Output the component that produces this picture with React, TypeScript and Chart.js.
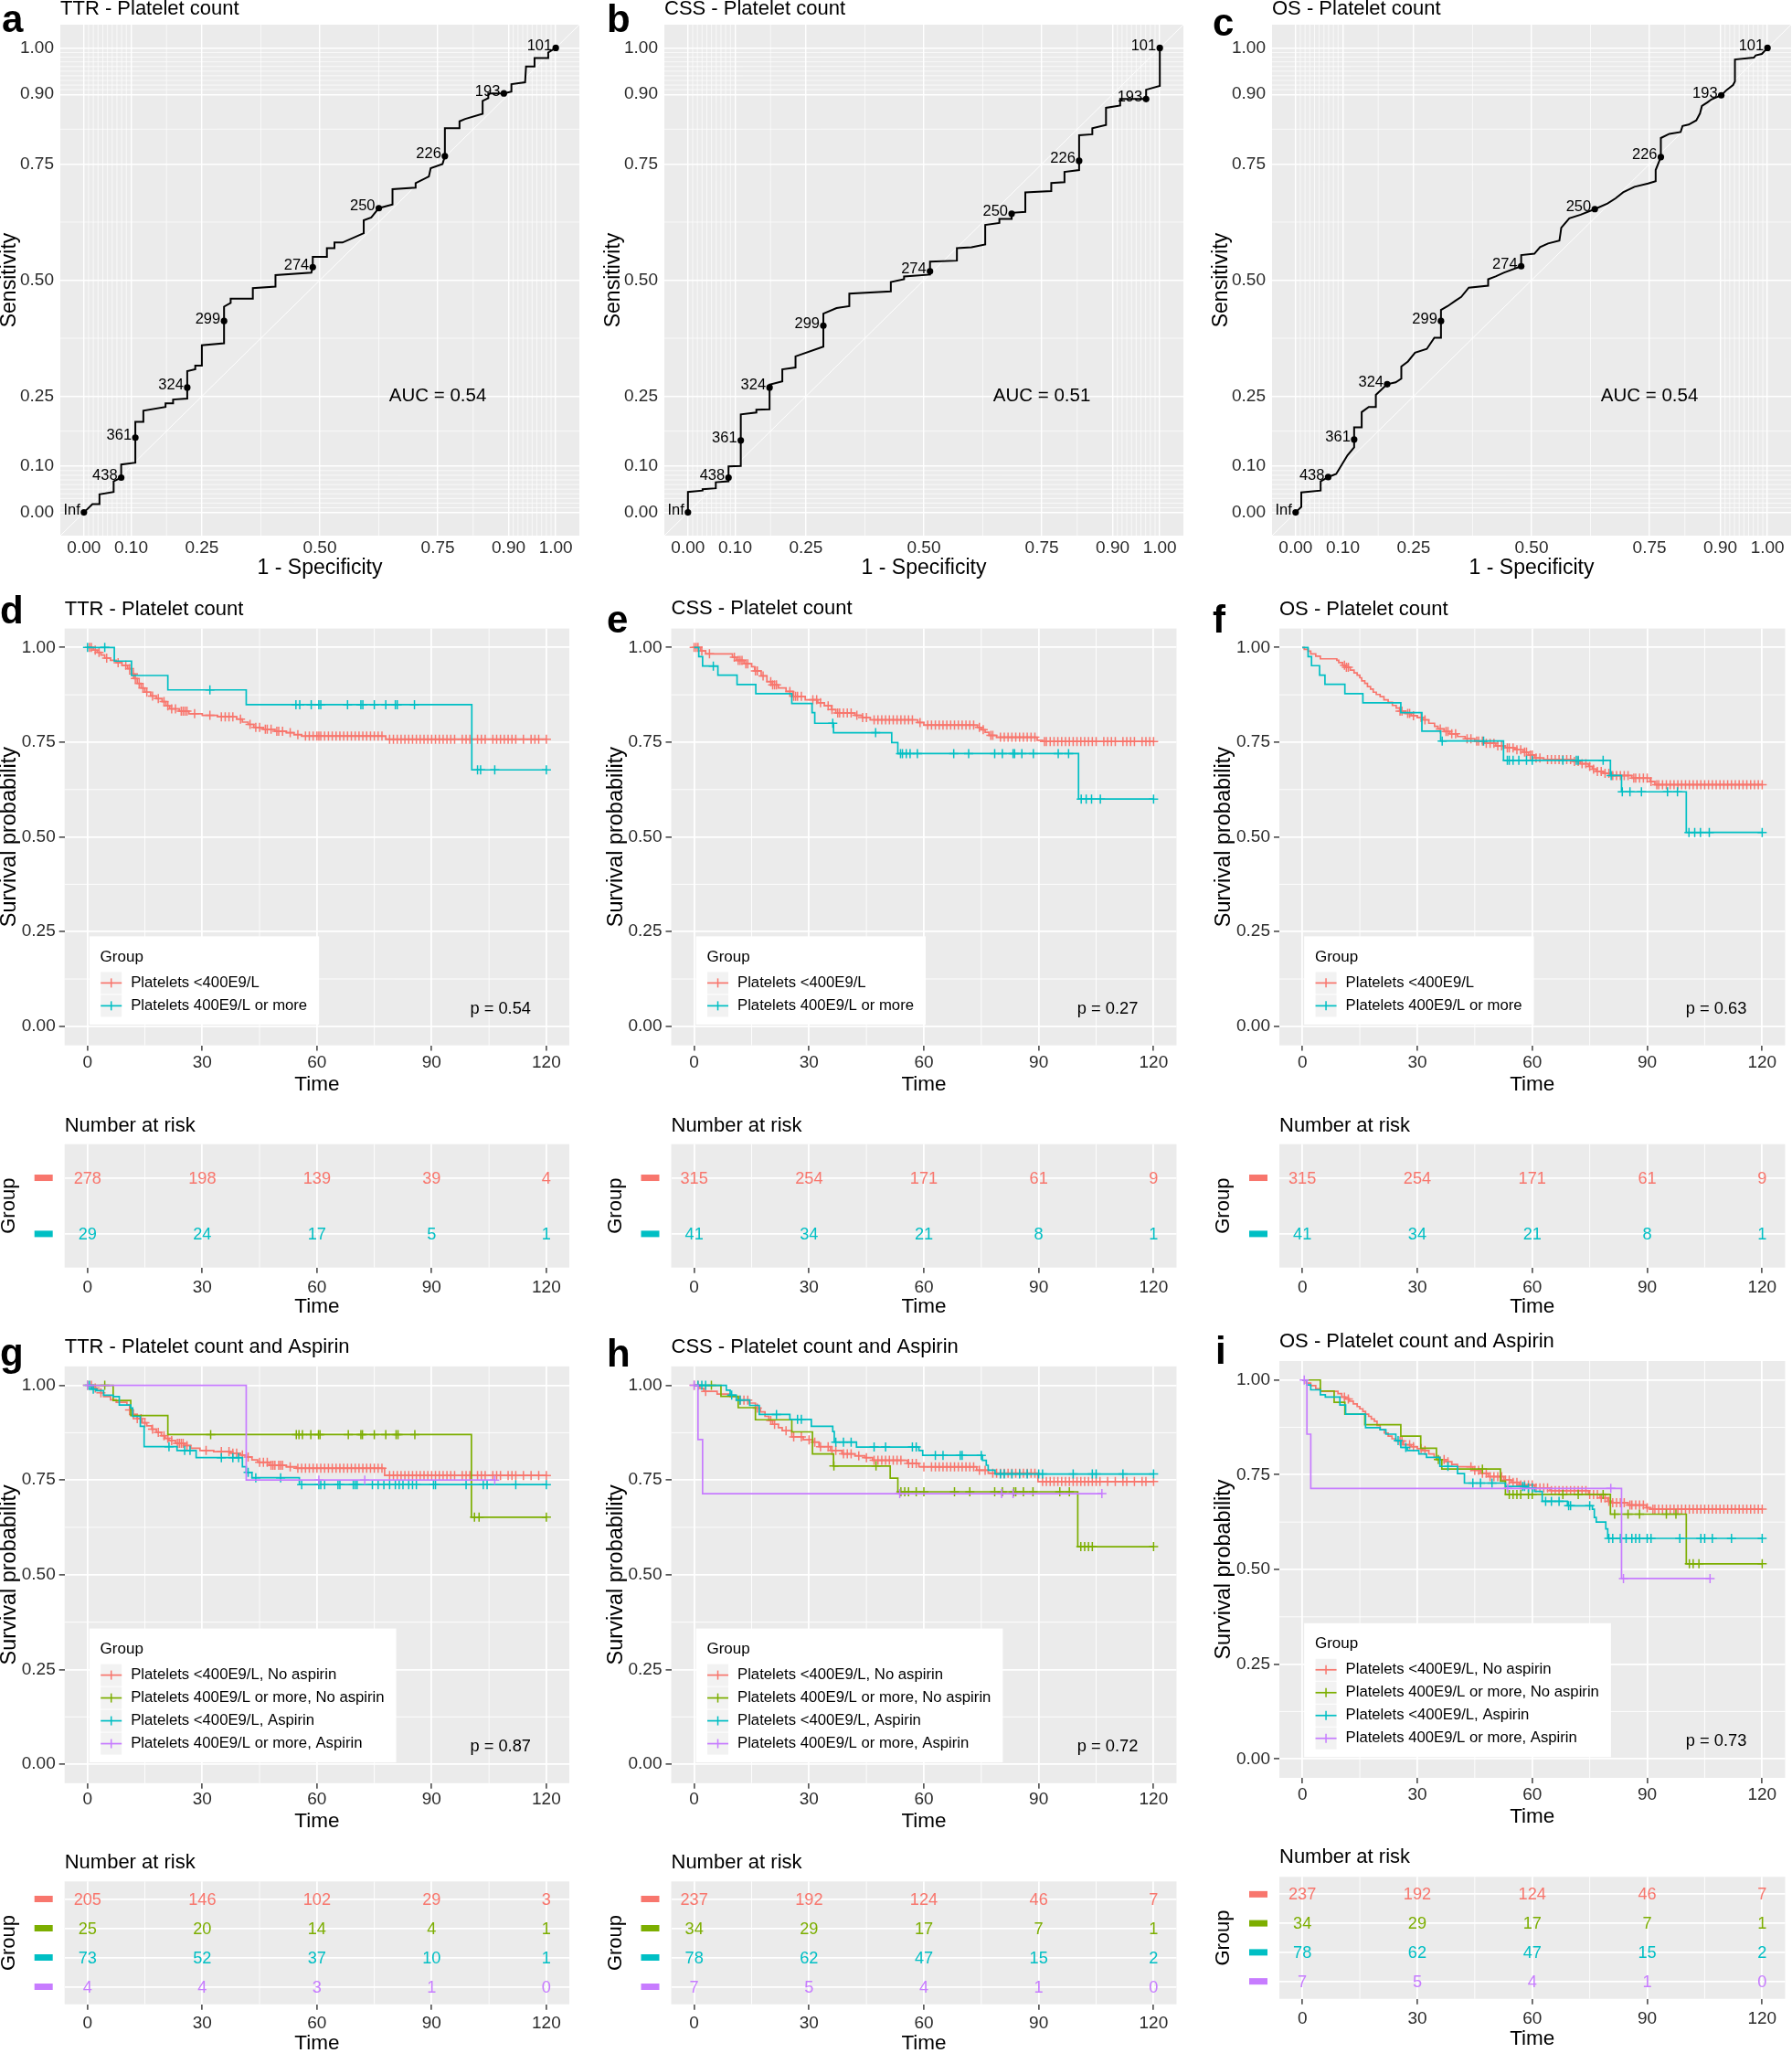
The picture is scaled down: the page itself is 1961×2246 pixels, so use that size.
import React, { useEffect, useRef } from 'react';
import { Chart, registerables } from 'chart.js';
Chart.register(...registerables);

const FONT = "'Liberation Sans', Arial, Helvetica, sans-serif";
Chart.defaults.font.family = FONT;

// ---------------- ROC data ----------------
const rocTicks = [0, 0.1, 0.25, 0.5, 0.75, 0.9, 1];
const rocMinor = [0.01, 0.02, 0.03, 0.04, 0.05, 0.06, 0.07, 0.08, 0.09, 0.175, 0.375, 0.625, 0.825, 0.91, 0.92, 0.93, 0.94, 0.95, 0.96, 0.97, 0.98, 0.99];
const rocTitles = ['TTR - Platelet count', 'CSS - Platelet count', 'OS - Platelet count'];
const aucValues = [0.54, 0.51, 0.54];
const thrLabels = ['Inf', '438', '361', '324', '299', '274', '250', '226', '193', '101'];

const rocTTR_fpr = [0, 0.018, 0.033, 0.033, 0.063, 0.063, 0.079, 0.079, 0.109, 0.109, 0.109, 0.126, 0.126, 0.173, 0.173, 0.189, 0.189, 0.219, 0.219, 0.219, 0.236, 0.236, 0.25, 0.25, 0.297, 0.297, 0.297, 0.311, 0.311, 0.358, 0.358, 0.406, 0.406, 0.482, 0.485, 0.485, 0.515, 0.515, 0.531, 0.531, 0.548, 0.593, 0.593, 0.609, 0.625, 0.654, 0.654, 0.703, 0.703, 0.731, 0.735, 0.76, 0.765, 0.765, 0.796, 0.796, 0.808, 0.845, 0.845, 0.857, 0.857, 0.89, 0.906, 0.906, 0.935, 0.937, 0.955, 0.955, 0.984, 0.984, 1];
const rocTTR_tpr = [0, 0.018, 0.018, 0.039, 0.044, 0.067, 0.075, 0.103, 0.107, 0.161, 0.195, 0.195, 0.219, 0.227, 0.235, 0.235, 0.243, 0.245, 0.269, 0.304, 0.308, 0.316, 0.316, 0.36, 0.364, 0.412, 0.443, 0.451, 0.46, 0.46, 0.483, 0.486, 0.511, 0.516, 0.528, 0.55, 0.55, 0.569, 0.569, 0.581, 0.581, 0.601, 0.629, 0.635, 0.655, 0.663, 0.696, 0.699, 0.709, 0.723, 0.741, 0.75, 0.767, 0.827, 0.827, 0.842, 0.847, 0.858, 0.886, 0.892, 0.902, 0.902, 0.906, 0.922, 0.926, 0.96, 0.96, 0.978, 0.978, 0.99, 1];
const rocTTR_thrFpr = [0, 0.079, 0.109, 0.219, 0.297, 0.485, 0.625, 0.765, 0.89, 1];
const rocTTR_thrTpr = [0, 0.075, 0.161, 0.269, 0.412, 0.528, 0.655, 0.767, 0.902, 1];

const rocCSS_fpr = [0, 0, 0.031, 0.031, 0.059, 0.059, 0.086, 0.086, 0.086, 0.112, 0.112, 0.112, 0.145, 0.145, 0.173, 0.173, 0.173, 0.2, 0.2, 0.228, 0.228, 0.287, 0.287, 0.287, 0.315, 0.342, 0.342, 0.43, 0.43, 0.458, 0.458, 0.513, 0.513, 0.513, 0.57, 0.57, 0.601, 0.63, 0.63, 0.66, 0.66, 0.686, 0.686, 0.686, 0.715, 0.715, 0.77, 0.77, 0.798, 0.798, 0.829, 0.829, 0.829, 0.857, 0.857, 0.886, 0.886, 0.916, 0.916, 0.971, 0.971, 1, 1];
const rocCSS_tpr = [0, 0.044, 0.047, 0.05, 0.052, 0.065, 0.067, 0.075, 0.099, 0.1, 0.155, 0.211, 0.215, 0.221, 0.222, 0.269, 0.275, 0.282, 0.308, 0.312, 0.336, 0.357, 0.402, 0.428, 0.44, 0.444, 0.471, 0.476, 0.496, 0.502, 0.508, 0.512, 0.519, 0.54, 0.542, 0.569, 0.571, 0.577, 0.619, 0.623, 0.632, 0.632, 0.643, 0.645, 0.647, 0.689, 0.692, 0.709, 0.711, 0.733, 0.737, 0.757, 0.812, 0.814, 0.827, 0.834, 0.871, 0.876, 0.89, 0.89, 0.91, 0.918, 1];
const rocCSS_thrFpr = [0, 0.086, 0.112, 0.173, 0.287, 0.513, 0.686, 0.829, 0.971, 1];
const rocCSS_thrTpr = [0, 0.075, 0.155, 0.269, 0.402, 0.519, 0.643, 0.757, 0.89, 1];

const rocOS_fpr = [0, 0.012, 0.012, 0.053, 0.053, 0.069, 0.086, 0.098, 0.11, 0.124, 0.124, 0.124, 0.14, 0.14, 0.155, 0.17, 0.17, 0.194, 0.212, 0.224, 0.224, 0.238, 0.253, 0.278, 0.294, 0.308, 0.308, 0.308, 0.322, 0.339, 0.351, 0.367, 0.408, 0.408, 0.424, 0.441, 0.478, 0.478, 0.506, 0.518, 0.535, 0.559, 0.563, 0.58, 0.604, 0.634, 0.661, 0.678, 0.694, 0.718, 0.747, 0.763, 0.763, 0.774, 0.774, 0.792, 0.816, 0.82, 0.833, 0.849, 0.857, 0.861, 0.873, 0.881, 0.902, 0.914, 0.927, 0.931, 0.931, 0.971, 0.975, 0.988, 1];
const rocOS_tpr = [0, 0.012, 0.043, 0.047, 0.067, 0.076, 0.083, 0.103, 0.123, 0.14, 0.157, 0.183, 0.183, 0.216, 0.227, 0.227, 0.253, 0.276, 0.28, 0.288, 0.314, 0.325, 0.344, 0.352, 0.376, 0.376, 0.412, 0.436, 0.444, 0.456, 0.464, 0.484, 0.488, 0.502, 0.508, 0.516, 0.53, 0.554, 0.557, 0.571, 0.579, 0.585, 0.613, 0.633, 0.641, 0.653, 0.665, 0.676, 0.689, 0.701, 0.708, 0.713, 0.737, 0.765, 0.806, 0.815, 0.819, 0.832, 0.835, 0.844, 0.859, 0.875, 0.883, 0.889, 0.898, 0.91, 0.92, 0.928, 0.975, 0.979, 0.984, 0.987, 1];
const rocOS_thrFpr = [0, 0.069, 0.124, 0.194, 0.308, 0.478, 0.634, 0.774, 0.902, 1];
const rocOS_thrTpr = [0, 0.076, 0.157, 0.276, 0.412, 0.53, 0.653, 0.765, 0.898, 1];

// ---------------- Kaplan-Meier data ----------------
const kmXTicks = [0, 30, 60, 90, 120];
const kmYTicks = [0, 0.25, 0.5, 0.75, 1];
const kmMinorX = [15, 45, 75, 105];
const kmMinorY = [0.125, 0.375, 0.625, 0.875];
const riskTimes = [0, 30, 60, 90, 120];
const kmTitles = ['TTR - Platelet count', 'CSS - Platelet count', 'OS - Platelet count', 'TTR - Platelet count and Aspirin', 'CSS - Platelet count and Aspirin', 'OS - Platelet count and Aspirin'];
const pValues = [0.54, 0.27, 0.63, 0.87, 0.72, 0.73];
const legend2 = ['Platelets <400E9/L', 'Platelets 400E9/L or more'];
const legend4 = ['Platelets <400E9/L, No aspirin', 'Platelets 400E9/L or more, No aspirin', 'Platelets <400E9/L, Aspirin', 'Platelets 400E9/L or more, Aspirin'];
const COL2 = ['#F8766D', '#00BFC4'];
const COL4 = ['#F8766D', '#7CAE00', '#00BFC4', '#C77CFF'];

// d: TTR, 2 groups
const ttr2_lo_t = [0, 1.5, 2.5, 3.5, 4.5, 6, 7.5, 9, 10.5, 11.5, 12.2, 13, 14, 15, 16.5, 18, 19.5, 20.5, 21.5, 24, 26.5, 30, 34, 39, 40.5, 42, 43.5, 46, 49, 52, 54, 56, 78];
const ttr2_lo_s = [1, 0.993, 0.987, 0.98, 0.972, 0.966, 0.96, 0.953, 0.944, 0.93, 0.918, 0.905, 0.893, 0.882, 0.872, 0.865, 0.857, 0.846, 0.838, 0.832, 0.825, 0.821, 0.817, 0.811, 0.803, 0.797, 0.789, 0.784, 0.779, 0.775, 0.77, 0.766, 0.758];
const ttr2_lo_cens = [0.5, 1, 2, 3, 5, 8, 10, 11, 12, 12.5, 13.5, 14.5, 15.5, 17, 18.5, 20, 21, 22, 23, 24.5, 25, 25.5, 26, 28, 32, 35, 36, 37, 38, 40, 42.5, 44, 45, 46.5, 47, 48, 49.5, 50, 51, 53, 55, 57, 58, 59, 60, 60.5, 61, 62, 63, 64, 65, 66, 67, 68, 69, 70, 71, 72, 73, 74, 75, 76, 77, 79, 80, 81, 82, 83, 84, 85, 86, 87, 88, 89, 90, 91, 92, 93, 94, 95, 96, 98, 99, 100, 102, 103, 104, 106, 107, 108, 109, 110, 111, 112, 114, 116, 117, 118, 120];
const ttr2_hi_t = [0, 7, 11.5, 21, 41.5, 100.5];
const ttr2_hi_s = [1, 0.964, 0.926, 0.888, 0.849, 0.677];
const ttr2_hi_cens = [0, 4.5, 32, 54.5, 55.5, 58.5, 60.5, 61, 68, 71.5, 72, 75, 78, 80.5, 81, 85.5, 102, 102.8, 106.5, 120];

// e: CSS, 2 groups
const css2_lo_t = [0, 1.7, 3, 10, 11, 13, 15, 15.8, 17.5, 19, 20.1, 22, 24, 25.8, 29, 32.3, 34, 35.9, 37, 42, 43.9, 46, 58.4, 60, 74, 75, 76, 77, 79, 89.6, 91];
const css2_lo_s = [1, 0.991, 0.983, 0.974, 0.966, 0.957, 0.949, 0.938, 0.925, 0.91, 0.901, 0.893, 0.884, 0.871, 0.862, 0.854, 0.846, 0.836, 0.827, 0.821, 0.815, 0.809, 0.802, 0.795, 0.789, 0.783, 0.776, 0.768, 0.763, 0.755, 0.752];
const css2_lo_cens = [0, 0.5, 1, 2, 4, 10.5, 11.5, 12, 12.5, 13.5, 14, 16, 16.5, 18, 20, 20.5, 21, 21.5, 25, 26, 26.5, 27, 28, 31, 32, 33, 35, 36, 37.5, 38, 39, 40, 41, 42.5, 44, 45, 47, 48, 49, 50, 51, 52, 53, 54, 55, 56, 57, 59, 61, 62, 63, 64, 65, 66, 67, 68, 69, 70, 71, 72, 73, 74.5, 75.5, 77.5, 78, 80, 81, 82, 83, 84, 85, 86, 87, 88, 89, 91.5, 92, 93, 94, 95, 96, 97, 98, 99, 100, 101, 102, 103, 104, 105, 107, 108, 109, 110, 112, 113, 114, 115, 117, 118, 119, 120];
const css2_hi_t = [0, 1.2, 2.2, 6.2, 11.2, 16.1, 25.5, 30.8, 31.5, 36.4, 51.6, 53.2, 100.4];
const css2_hi_s = [1, 0.976, 0.951, 0.927, 0.902, 0.878, 0.852, 0.828, 0.8, 0.775, 0.749, 0.72, 0.6];
const css2_hi_cens = [5, 36.2, 47.4, 53.9, 54.4, 55.4, 56.4, 58.3, 67.8, 71.7, 78.5, 80.5, 83.3, 83.7, 85.6, 88.6, 95.1, 97.8, 101.1, 102.4, 103.8, 106.1, 120];

// f: OS, 2 groups
const os2_lo_t = [0, 0.5, 1.5, 2.2, 3.5, 4.7, 9, 9.5, 10.5, 11.3, 12.5, 13.5, 14.3, 15, 15.5, 16.3, 17, 17.8, 18.5, 19.3, 20.3, 21.3, 22.4, 23.5, 24.5, 25.4, 27, 28.4, 30, 31.4, 33, 34.5, 35.4, 37, 38.5, 40.5, 42.5, 45, 47.5, 50.5, 53, 55.5, 57.6, 59, 60.6, 63, 70.7, 72.5, 74.7, 75.7, 76.7, 78.5, 80.7, 86, 90.8, 92];
const os2_lo_s = [1, 0.995, 0.99, 0.983, 0.977, 0.97, 0.966, 0.96, 0.953, 0.948, 0.94, 0.933, 0.927, 0.92, 0.912, 0.905, 0.897, 0.89, 0.882, 0.876, 0.87, 0.862, 0.855, 0.847, 0.84, 0.832, 0.826, 0.82, 0.815, 0.809, 0.8, 0.792, 0.785, 0.778, 0.772, 0.765, 0.759, 0.753, 0.747, 0.74, 0.735, 0.73, 0.724, 0.716, 0.708, 0.704, 0.699, 0.693, 0.686, 0.679, 0.673, 0.668, 0.662, 0.655, 0.646, 0.638];
const os2_lo_cens = [11, 11.5, 12, 25.5, 26, 27.5, 28, 29, 31, 32, 36, 37.5, 38, 39, 40, 43, 44, 45.5, 46, 47, 48, 49, 50, 51, 52, 53.5, 54, 55, 56, 57, 58, 58.5, 59.5, 60, 61, 62, 64, 65, 66, 67, 68, 69, 70, 71, 72, 73, 74, 75, 76, 77, 78, 79, 80, 81, 82, 83, 84, 85, 86.5, 87, 88, 89, 90, 91, 92.5, 93, 94, 95, 96, 97, 98, 99, 100, 101, 102, 103, 104, 105, 106, 107, 108, 109, 110, 111, 112, 113, 114, 115, 116, 117, 118, 119, 120];
const os2_hi_t = [0, 1.5, 2.4, 4.5, 5.9, 11.1, 15.8, 25.7, 31.2, 36.1, 52.5, 80.4, 83.3, 100.2];
const os2_hi_s = [1, 0.976, 0.952, 0.927, 0.903, 0.878, 0.854, 0.828, 0.779, 0.753, 0.702, 0.662, 0.619, 0.512];
const os2_hi_cens = [36.5, 47.3, 53.5, 54, 55, 56.5, 58.5, 60, 68, 71.5, 72, 78.5, 80.6, 83.5, 85.5, 88.5, 95.3, 97.9, 100.9, 102.4, 103.9, 106.2, 120];

// g: TTR, 4 groups
const ttr4_loNo_t = [0, 1.5, 2.2, 3.5, 4.2, 6, 7.5, 10.3, 11, 11.8, 13, 14.3, 15.5, 16.8, 18, 19.3, 20.3, 21.3, 23, 25.4, 27, 29.4, 33, 37.5, 40, 41.5, 43, 44.5, 47.5, 52, 54.6, 77.7];
const ttr4_loNo_s = [1, 0.993, 0.987, 0.98, 0.97, 0.962, 0.955, 0.948, 0.935, 0.923, 0.912, 0.901, 0.893, 0.884, 0.876, 0.867, 0.86, 0.854, 0.847, 0.841, 0.834, 0.828, 0.825, 0.821, 0.816, 0.811, 0.803, 0.797, 0.789, 0.785, 0.781, 0.762];
const ttr4_loNo_cens = [1, 2, 3.5, 11, 12, 13, 14, 15, 17, 18.5, 20, 21, 22, 23.5, 24, 24.5, 25, 26, 31, 35, 37, 38, 39, 40.5, 42, 45, 46, 47, 48, 48.5, 49, 50, 50.5, 51, 53, 55, 56, 57, 58, 59, 60, 61, 62, 63, 64, 65, 66, 67, 68, 69, 70, 71, 72, 73, 74, 75, 76, 77, 79, 80, 81, 82, 83, 84, 85, 86, 87, 88, 89, 90, 91, 92, 93, 94, 95, 96, 98, 99, 100, 102, 103, 104, 106, 107, 108, 110, 111, 112, 114, 116, 118, 120];
const ttr4_hiNo_t = [0, 6.7, 11.3, 21, 100.4];
const ttr4_hiNo_s = [1, 0.96, 0.92, 0.87, 0.652];
const ttr4_hiNo_cens = [0, 4.5, 32.2, 54.6, 55.3, 56.2, 58.4, 60.4, 60.8, 68.2, 71.5, 71.9, 75, 78, 80.7, 81.2, 85.6, 101.2, 102.4, 120];
const ttr4_loAsp_t = [0, 1, 2.2, 4.2, 6.7, 8.3, 11.3, 11.8, 13.8, 14.8, 23.4, 28.4, 40.5, 41.5, 43, 55.4];
const ttr4_loAsp_s = [1, 0.99, 0.986, 0.974, 0.97, 0.948, 0.94, 0.918, 0.892, 0.838, 0.828, 0.809, 0.785, 0.77, 0.756, 0.738];
const ttr4_loAsp_cens = [0.5, 1.5, 21.3, 25.4, 26.8, 35, 38, 39.5, 42, 44, 50.5, 56, 60.5, 61, 62, 65.5, 66, 69.5, 70, 70.5, 74.5, 76, 77.5, 79, 80.5, 81.5, 82.5, 84, 85, 86, 90.5, 91, 99, 103.5, 104.5, 112, 120];
const ttr4_hiAsp_t = [0, 41.5];
const ttr4_hiAsp_s = [1, 0.75];
const ttr4_hiAsp_cens = [0, 60.5, 72.5, 106.5];

// h: CSS, 4 groups
const css4_loNo_t = [0, 1.5, 2.5, 6, 9.4, 11.5, 14.5, 16, 17.3, 18.5, 19.5, 20.5, 22, 23, 25.5, 28.5, 31, 32.6, 35.6, 38.6, 42, 44.6, 46.6, 55.7, 58.7, 73.8, 76.8, 89.8];
const css4_loNo_s = [1, 0.992, 0.984, 0.977, 0.97, 0.961, 0.953, 0.94, 0.93, 0.918, 0.907, 0.897, 0.888, 0.88, 0.864, 0.856, 0.85, 0.838, 0.828, 0.819, 0.814, 0.809, 0.802, 0.794, 0.785, 0.776, 0.768, 0.746];
const css4_loNo_cens = [0, 1, 3, 12, 13, 14, 16.5, 20, 21, 24, 26, 28, 30, 31.5, 33, 35, 36, 37, 39, 40, 41, 43, 45, 47, 48, 49, 50, 51, 52, 53, 54, 56, 57, 58, 60, 62, 63, 64, 65, 66, 67, 68, 69, 70, 71, 72, 73, 74.5, 76, 78, 79, 80, 81, 82, 83, 84, 85, 86, 87, 88, 89, 91, 92, 93, 94, 95, 96, 97, 98, 99, 100, 101, 102, 103, 104, 105, 106, 108, 110, 112, 113, 115, 117, 118, 120];
const css4_hiNo_t = [0, 7, 11.5, 16, 25.5, 30.9, 36.4, 51.2, 53.2, 100.2];
const css4_hiNo_s = [1, 0.971, 0.941, 0.909, 0.877, 0.819, 0.787, 0.755, 0.719, 0.574];
const css4_hiNo_cens = [4.5, 36.5, 47.5, 54, 55, 56, 58, 60, 68, 72, 78.5, 80.5, 83.5, 84, 86, 88.5, 95.5, 98, 101, 102, 103, 104, 120];
const css4_loAsp_t = [0, 8.4, 9.4, 11, 14.5, 17, 25, 30.6, 36.2, 36.6, 42.4, 58.7, 59.7, 75.3, 76.3, 76.8, 78.6];
const css4_loAsp_s = [1, 0.987, 0.974, 0.961, 0.947, 0.923, 0.91, 0.892, 0.878, 0.85, 0.837, 0.828, 0.815, 0.802, 0.789, 0.776, 0.766];
const css4_loAsp_cens = [1, 2, 3, 9.8, 12, 21.5, 27, 28, 37, 39, 41, 47, 50, 57, 58, 63, 65, 69.5, 70, 75, 80, 81, 83, 85, 87, 90, 91, 99, 104, 105, 112, 120];
const css4_hiAsp_t = [0, 1, 2.2];
const css4_hiAsp_s = [1, 0.857, 0.714];
const css4_hiAsp_cens = [0, 53.7, 80.3, 83.3, 106.5];

// i: OS, 4 groups
const os4_loNo_t = [0, 1, 2.2, 3.5, 4.7, 9.3, 10.3, 11.3, 12.3, 13.3, 14.3, 15, 15.8, 16.5, 17.3, 18, 18.8, 19.5, 20.3, 21.4, 22.4, 23.4, 24.4, 26.4, 28.4, 30, 31.4, 33, 34.4, 36, 37.5, 39, 40.5, 44.5, 46.5, 48.5, 52.6, 54.5, 56.6, 60.6, 64.6, 74.7, 77.7, 79.7, 80.7, 85, 89.8, 90.8];
const os4_loNo_s = [1, 0.992, 0.985, 0.977, 0.97, 0.964, 0.955, 0.95, 0.944, 0.937, 0.93, 0.924, 0.917, 0.91, 0.904, 0.897, 0.891, 0.88, 0.869, 0.86, 0.852, 0.845, 0.839, 0.829, 0.824, 0.819, 0.814, 0.805, 0.796, 0.79, 0.784, 0.777, 0.771, 0.762, 0.754, 0.745, 0.736, 0.73, 0.723, 0.715, 0.708, 0.698, 0.689, 0.68, 0.676, 0.67, 0.663, 0.659];
const os4_loNo_cens = [11, 12, 25.5, 26, 28, 29, 31, 32, 37, 38, 44, 45, 46, 47, 48, 49, 50, 51, 52, 53, 54, 55, 56, 57, 58, 59, 60, 61, 62, 63, 64, 65, 66, 67, 68, 69, 70, 71, 72, 73, 74, 75, 76, 77, 78, 79, 80, 81, 82, 83, 84, 85.5, 86, 87, 88, 89, 90, 91.5, 92, 93, 94, 95, 96, 97, 98, 99, 100, 101, 102, 103, 104, 105, 106, 107, 108, 109, 110, 111, 112, 113, 114, 115, 116, 117, 118, 119, 120];
const os4_hiNo_t = [0, 4.7, 8.3, 11.1, 16.3, 25.7, 30.9, 35, 36.4, 51.7, 53, 80.4, 100.2];
const os4_hiNo_s = [1, 0.971, 0.941, 0.91, 0.882, 0.852, 0.82, 0.79, 0.765, 0.733, 0.698, 0.646, 0.515];
const os4_hiNo_cens = [35.5, 47, 54, 55, 56, 57, 59, 60, 68, 72, 78.5, 81.5, 85, 88, 95, 97.5, 101, 102, 103.5, 120];
const os4_loAsp_t = [0, 1.2, 2.2, 4.7, 6, 9.8, 11.3, 16.5, 20.3, 21.8, 24.4, 25.7, 27.4, 30.4, 32.4, 35.9, 40.5, 42.3, 53, 58.6, 60.6, 62.6, 69.2, 75.7, 76.2, 76.7, 79.2, 79.7];
const os4_loAsp_s = [1, 0.987, 0.974, 0.961, 0.955, 0.934, 0.91, 0.874, 0.869, 0.857, 0.84, 0.822, 0.814, 0.805, 0.796, 0.772, 0.753, 0.728, 0.719, 0.715, 0.706, 0.68, 0.668, 0.659, 0.637, 0.625, 0.607, 0.582];
const os4_loAsp_cens = [25, 27, 38, 44.5, 46.5, 49.5, 57.5, 58, 59, 60, 63.5, 65, 67, 69.5, 70, 75, 80, 81, 83, 84.5, 86, 87, 88, 90, 91, 98.5, 104, 105, 107, 112, 120];
const os4_hiAsp_t = [0, 1.2, 2.2, 83.3];
const os4_hiAsp_s = [1, 0.857, 0.714, 0.476];
const os4_hiAsp_cens = [0.5, 53.6, 80.5, 83.8, 106.4];

// Numbers at risk
const riskTTR2 = [[278, 198, 139, 39, 4], [29, 24, 17, 5, 1]];
const riskCSS2 = [[315, 254, 171, 61, 9], [41, 34, 21, 8, 1]];
const riskOS2 = [[315, 254, 171, 61, 9], [41, 34, 21, 8, 1]];
const riskTTR4 = [[205, 146, 102, 29, 3], [25, 20, 14, 4, 1], [73, 52, 37, 10, 1], [4, 4, 3, 1, 0]];
const riskCSS4 = [[237, 192, 124, 46, 7], [34, 29, 17, 7, 1], [78, 62, 47, 15, 2], [7, 5, 4, 1, 0]];
const riskOS4 = [[237, 192, 124, 46, 7], [34, 29, 17, 7, 1], [78, 62, 47, 15, 2], [7, 5, 4, 1, 0]];

// ---------------- helpers ----------------
const PANEL_BG = '#EBEBEB';
const TICK_COL = '#2b2b2b';

function txt(ctx: any, s: string, x: number, y: number, size: number, o: any = {}) {
  ctx.save();
  ctx.font = `${o.weight || 'normal'} ${size}px ${FONT}`;
  ctx.fillStyle = o.color || '#000000';
  ctx.textAlign = o.align || 'left';
  ctx.textBaseline = o.baseline || 'middle';
  ctx.fillText(s, x, y);
  ctx.restore();
}

function survAt(ts: number[], ss: number[], t: number) {
  let s = 1;
  for (let i = 0; i < ts.length; i++) if (ts[i] <= t) s = ss[i];
  return s;
}

function xAxis(p: any) {
  const xH = p.box.y + p.box.h - p.area.b;
  return {
    type: 'linear', position: 'bottom', min: p.min, max: p.max, bounds: 'data',
    afterBuildTicks: (ax: any) => { ax.ticks = p.ticks.map((v: number) => ({ value: v })); },
    afterFit: (ax: any) => { ax.height = xH; },
    grid: { color: '#FFFFFF', lineWidth: p.gridW, drawTicks: p.tickLen > 0, tickLength: p.tickLen, tickColor: '#333333', tickWidth: 1.4 },
    border: { display: false },
    ticks: {
      autoSkip: false, maxRotation: 0, minRotation: 0, color: TICK_COL,
      font: { family: FONT, size: p.labelSize, lineHeight: 1.2 },
      padding: p.labelPos - p.area.b - p.tickLen - p.labelSize * 0.6,
      callback: (v: number) => p.fmt(v),
    },
    title: {
      display: true, text: p.title, color: '#000000',
      font: { family: FONT, size: p.titleSize, lineHeight: 1.2 },
      padding: { top: 0, bottom: (p.box.y + p.box.h) - p.titlePos - p.titleSize * 0.6 },
    },
  };
}

function yAxis(p: any) {
  const yW = p.area.l - p.box.x;
  return {
    type: 'linear', position: 'left', min: p.min, max: p.max, bounds: 'data', reverse: !!p.reverse,
    afterBuildTicks: (ax: any) => { ax.ticks = p.ticks.map((v: number) => ({ value: v })); },
    afterFit: (ax: any) => { ax.width = yW; },
    grid: { color: '#FFFFFF', lineWidth: p.gridW, drawTicks: p.tickLen > 0, tickLength: p.tickLen, tickColor: '#333333', tickWidth: 1.4 },
    border: { display: false },
    ticks: {
      autoSkip: false, color: TICK_COL,
      font: { family: FONT, size: p.labelSize, lineHeight: 1.2 },
      padding: p.area.l - p.tickLen - p.labelPos,
      callback: (v: number) => p.fmt(v),
    },
    title: {
      display: true, text: p.title, color: '#000000',
      font: { family: FONT, size: p.titleSize, lineHeight: 1.2 },
      padding: { top: p.titlePos - p.box.x - p.titleSize * 0.6, bottom: 0 },
    },
  };
}

function baseOptions(spec: any, scales: any) {
  const { box, area } = spec;
  return {
    animation: false, responsive: false, maintainAspectRatio: false, devicePixelRatio: 1, events: [],
    layout: { padding: { left: 0, top: area.t - box.y, right: box.x + box.w - area.r, bottom: 0 } },
    plugins: { legend: { display: false }, tooltip: { enabled: false }, title: { display: false } },
    scales,
  };
}

function panelPlugin(minorX: number[], minorY: number[], minorW: number, extraBefore?: any, after?: any) {
  return {
    id: 'panelDecor',
    beforeDraw(chart: any) {
      const { ctx, chartArea: a } = chart;
      ctx.save();
      ctx.fillStyle = PANEL_BG;
      ctx.fillRect(a.left, a.top, a.right - a.left, a.bottom - a.top);
      ctx.restore();
    },
    beforeDatasetsDraw(chart: any) {
      const { ctx, chartArea: a, scales } = chart;
      ctx.save();
      ctx.strokeStyle = '#FFFFFF';
      ctx.lineWidth = minorW;
      for (const v of minorX) {
        const px = scales.x.getPixelForValue(v);
        ctx.beginPath(); ctx.moveTo(px, a.top); ctx.lineTo(px, a.bottom); ctx.stroke();
      }
      for (const v of minorY) {
        const py = scales.y.getPixelForValue(v);
        ctx.beginPath(); ctx.moveTo(a.left, py); ctx.lineTo(a.right, py); ctx.stroke();
      }
      ctx.restore();
      if (extraBefore) extraBefore(chart);
    },
    afterDraw(chart: any) { if (after) after(chart); },
  };
}

// ---------------- configs ----------------
function rocConfig(spec: any) {
  const { box, area } = spec;
  const curve = spec.fpr.map((x: number, i: number) => ({ x, y: spec.tpr[i] }));
  const pts = spec.thrFpr.map((x: number, i: number) => ({ x, y: spec.thrTpr[i] }));
  const fmt = (v: number) => v.toFixed(2);
  const scales = {
    x: xAxis({ box, area, min: -0.05, max: 1.05, ticks: rocTicks, fmt, tickLen: 0, labelSize: 19, labelPos: 600, title: '1 - Specificity', titleSize: 23, titlePos: 622, gridW: 1.4 }),
    y: yAxis({ box, area, min: -0.05, max: 1.05, ticks: rocTicks, fmt, tickLen: 0, labelSize: 19, labelPos: area.l - 7, title: 'Sensitivity', titleSize: 23, titlePos: area.l - 55, gridW: 1.4 }),
  };
  const diag = (chart: any) => {
    const { ctx, scales: s } = chart;
    ctx.save();
    ctx.strokeStyle = 'rgba(255,255,255,0.95)';
    ctx.lineWidth = 1;
    ctx.beginPath();
    ctx.moveTo(s.x.getPixelForValue(s.x.min), s.y.getPixelForValue(s.y.min));
    ctx.lineTo(s.x.getPixelForValue(s.x.max), s.y.getPixelForValue(s.y.max));
    ctx.stroke();
    ctx.restore();
  };
  const after = (chart: any) => {
    const { ctx, scales: s } = chart;
    txt(ctx, spec.title, area.l - box.x, 10 - box.y, 22);
    txt(ctx, spec.letter, spec.letterX - box.x, spec.letterY - box.y, 42, { weight: 'bold', baseline: 'alphabetic' });
    txt(ctx, 'AUC = ' + spec.auc.toFixed(2), s.x.getPixelForValue(0.75), s.y.getPixelForValue(0.25), 20.5, { align: 'center' });
    thrLabels.forEach((lab, i) => {
      txt(ctx, lab, s.x.getPixelForValue(spec.thrFpr[i]) - 4, s.y.getPixelForValue(spec.thrTpr[i]) - 2, 16.5, { align: 'right' });
    });
  };
  return {
    type: 'line',
    data: {
      datasets: [
        { data: pts, showLine: false, pointRadius: 3.6, pointBackgroundColor: '#000', pointBorderColor: '#000', pointBorderWidth: 0, order: 0 },
        { data: curve, borderColor: '#000', borderWidth: 2, pointRadius: 0, tension: 0, fill: false, order: 1 },
      ],
    },
    options: baseOptions(spec, scales),
    plugins: [panelPlugin(rocMinor, rocMinor, 0.7, diag, after)],
  };
}

function kmConfig(spec: any) {
  const { box, area } = spec;
  const n = spec.groups.length;
  const datasets: any[] = [];
  spec.groups.forEach((g: any, gi: number) => {
    const c = spec.colors[gi];
    const end = Math.max(...g.cens, g.t[g.t.length - 1]);
    const line = g.t.map((t: number, i: number) => ({ x: t, y: g.s[i] }));
    line.push({ x: end, y: g.s[g.s.length - 1] });
    datasets.push({ data: line, stepped: true, borderColor: c, borderWidth: 1.7, pointRadius: 0, fill: false, order: (n - gi) * 10 + 1 });
    datasets.push({
      data: g.cens.map((t: number) => ({ x: t, y: survAt(g.t, g.s, t) })),
      showLine: false, pointStyle: 'cross', pointRadius: 5, pointBorderColor: c, pointBackgroundColor: c, pointBorderWidth: 1.5,
      borderColor: c, order: (n - gi) * 10,
    });
  });
  const scales = {
    x: xAxis({ box, area, min: -6, max: 126, ticks: kmXTicks, fmt: (v: number) => String(v), tickLen: 6, labelSize: 19, labelPos: spec.xLabelY, title: 'Time', titleSize: 22.5, titlePos: spec.xTitleY, gridW: 1.8 }),
    y: yAxis({ box, area, min: -0.05, max: 1.05, ticks: kmYTicks, fmt: (v: number) => v.toFixed(2), tickLen: 6, labelSize: 19, labelPos: area.l - 10, title: 'Survival probability', titleSize: 23.5, titlePos: area.l - 60, gridW: 1.8 }),
  };
  const after = (chart: any) => {
    const { ctx, scales: s } = chart;
    txt(ctx, spec.title, area.l - box.x, spec.titleY - box.y, 22);
    txt(ctx, spec.letter, spec.letterX - box.x, spec.letterY - box.y, 42, { weight: 'bold', baseline: 'alphabetic' });
    txt(ctx, 'p = ' + spec.p.toFixed(2), s.x.getPixelForValue(108), s.y.getPixelForValue(0.046), 18.3, { align: 'center' });
    // legend
    const labels = spec.labels;
    ctx.save();
    ctx.font = `16.7px ${FONT}`;
    const tw = Math.max(...labels.map((l: string) => ctx.measureText(l).width));
    ctx.restore();
    const bx = s.x.getPixelForValue(0) + 2;
    const bb = s.y.getPixelForValue(0) - 2;
    const h = 51 + (labels.length - 1) * 25 + 20.5;
    const by = bb - h;
    const w = 45.4 + tw + 13;
    ctx.save();
    ctx.fillStyle = '#FFFFFF';
    ctx.fillRect(bx, by, w, h);
    ctx.restore();
    txt(ctx, 'Group', bx + 11.8, by + 23, 17);
    labels.forEach((lab: string, i: number) => {
      const cy = by + 51 + i * 25;
      const c = spec.colors[i];
      ctx.save();
      ctx.fillStyle = '#F2F2F2';
      ctx.fillRect(bx + 12.4, cy - 12, 23, 24);
      ctx.strokeStyle = c;
      ctx.lineWidth = 1.7;
      ctx.beginPath(); ctx.moveTo(bx + 12.4, cy); ctx.lineTo(bx + 35.4, cy); ctx.stroke();
      ctx.lineWidth = 1.5;
      ctx.beginPath(); ctx.moveTo(bx + 23.9, cy - 5); ctx.lineTo(bx + 23.9, cy + 5); ctx.stroke();
      ctx.restore();
      txt(ctx, lab, bx + 45.4, cy, 16.7);
    });
  };
  return {
    type: 'line',
    data: { datasets },
    options: baseOptions(spec, scales),
    plugins: [panelPlugin(kmMinorX, kmMinorY, 0.9, null, after)],
  };
}

function riskConfig(spec: any) {
  const { box, area } = spec;
  const nr = spec.rows.length;
  const rowTicks = spec.rows.map((_: any, i: number) => i + 1);
  const scales = {
    x: xAxis({ box, area, min: -6, max: 126, ticks: kmXTicks, fmt: (v: number) => String(v), tickLen: 6, labelSize: 19, labelPos: spec.xLabelY, title: 'Time', titleSize: 22.5, titlePos: spec.xTitleY, gridW: 1.8 }),
    y: yAxis({ box, area, min: 0.4, max: nr + 0.6, reverse: true, ticks: rowTicks, fmt: () => '', tickLen: 0, labelSize: 19, labelPos: area.l - 10, title: 'Group', titleSize: 22, titlePos: area.l - 61, gridW: 1.8 }),
  };
  const after = (chart: any) => {
    const { ctx, scales: s } = chart;
    txt(ctx, 'Number at risk', area.l - box.x, spec.titleY - box.y, 22);
    spec.rows.forEach((row: number[], ri: number) => {
      const py = s.y.getPixelForValue(ri + 1);
      const c = spec.colors[ri];
      ctx.save();
      ctx.fillStyle = c;
      ctx.fillRect(area.l - 33 - box.x, py - 3.5, 20, 7);
      ctx.restore();
      row.forEach((num, ci) => {
        txt(ctx, String(num), s.x.getPixelForValue(riskTimes[ci]), py + 1, 18.2, { align: 'center', color: c });
      });
    });
  };
  return {
    type: 'line',
    data: { datasets: [] },
    options: baseOptions(spec, scales),
    plugins: [panelPlugin(kmMinorX, [], 0.9, null, after)],
  };
}

// ---------------- panel specs ----------------
const ROC_COL = [
  { box: { x: 0, y: 0, w: 660, h: 640 }, area: { l: 66, t: 27, r: 634, b: 586 }, letter: 'a', letterX: 2, letterY: 35 },
  { box: { x: 660, y: 0, w: 660, h: 640 }, area: { l: 727, t: 27, r: 1295, b: 586 }, letter: 'b', letterX: 664, letterY: 35 },
  { box: { x: 1320, y: 0, w: 680, h: 640 }, area: { l: 1392, t: 27, r: 1960, b: 586 }, letter: 'c', letterX: 1327, letterY: 39 },
];
const rocData = [
  { fpr: rocTTR_fpr, tpr: rocTTR_tpr, thrFpr: rocTTR_thrFpr, thrTpr: rocTTR_thrTpr },
  { fpr: rocCSS_fpr, tpr: rocCSS_tpr, thrFpr: rocCSS_thrFpr, thrTpr: rocCSS_thrTpr },
  { fpr: rocOS_fpr, tpr: rocOS_tpr, thrFpr: rocOS_thrFpr, thrTpr: rocOS_thrTpr },
];
const ROC_SPECS = ROC_COL.map((c, i) => ({ kind: 'roc', ...c, ...rocData[i], title: rocTitles[i], auc: aucValues[i] }));

const KM_COLS = [{ l: 70.7, r: 623, bx: 0, bw: 660 }, { l: 734.5, r: 1287.5, bx: 660, bw: 660 }, { l: 1400, r: 1953.5, bx: 1320, bw: 680 }];
const kmGroups = [
  [{ t: ttr2_lo_t, s: ttr2_lo_s, cens: ttr2_lo_cens }, { t: ttr2_hi_t, s: ttr2_hi_s, cens: ttr2_hi_cens }],
  [{ t: css2_lo_t, s: css2_lo_s, cens: css2_lo_cens }, { t: css2_hi_t, s: css2_hi_s, cens: css2_hi_cens }],
  [{ t: os2_lo_t, s: os2_lo_s, cens: os2_lo_cens }, { t: os2_hi_t, s: os2_hi_s, cens: os2_hi_cens }],
  [{ t: ttr4_loNo_t, s: ttr4_loNo_s, cens: ttr4_loNo_cens }, { t: ttr4_hiNo_t, s: ttr4_hiNo_s, cens: ttr4_hiNo_cens }, { t: ttr4_loAsp_t, s: ttr4_loAsp_s, cens: ttr4_loAsp_cens }, { t: ttr4_hiAsp_t, s: ttr4_hiAsp_s, cens: ttr4_hiAsp_cens }],
  [{ t: css4_loNo_t, s: css4_loNo_s, cens: css4_loNo_cens }, { t: css4_hiNo_t, s: css4_hiNo_s, cens: css4_hiNo_cens }, { t: css4_loAsp_t, s: css4_loAsp_s, cens: css4_loAsp_cens }, { t: css4_hiAsp_t, s: css4_hiAsp_s, cens: css4_hiAsp_cens }],
  [{ t: os4_loNo_t, s: os4_loNo_s, cens: os4_loNo_cens }, { t: os4_hiNo_t, s: os4_hiNo_s, cens: os4_hiNo_cens }, { t: os4_loAsp_t, s: os4_loAsp_s, cens: os4_loAsp_cens }, { t: os4_hiAsp_t, s: os4_hiAsp_s, cens: os4_hiAsp_cens }],
];
const riskRows = [riskTTR2, riskCSS2, riskOS2, riskTTR4, riskCSS4, riskOS4];
const KM_LAYOUT = [
  { col: 0, top: 645, t: 687.6, b: 1143.6, titleY: 667, xLabelY: 1163, xTitleY: 1187, letter: 'd', letterX: 0, letterY: 682 },
  { col: 1, top: 645, t: 687.6, b: 1143.6, titleY: 666, xLabelY: 1163, xTitleY: 1187, letter: 'e', letterX: 664, letterY: 692 },
  { col: 2, top: 645, t: 687.6, b: 1143.6, titleY: 666.5, xLabelY: 1163, xTitleY: 1187, letter: 'f', letterX: 1327, letterY: 692 },
  { col: 0, top: 1450, t: 1494.8, b: 1950.8, titleY: 1474, xLabelY: 1969, xTitleY: 1993, letter: 'g', letterX: 0, letterY: 1494 },
  { col: 1, top: 1450, t: 1494.8, b: 1950.8, titleY: 1474, xLabelY: 1969, xTitleY: 1993, letter: 'h', letterX: 664, letterY: 1495 },
  { col: 2, top: 1450, t: 1489, b: 1945, titleY: 1468, xLabelY: 1964, xTitleY: 1988, letter: 'i', letterX: 1330, letterY: 1492 },
];
const RISK_LAYOUT = [
  { top: 1205, t: 1251.7, b: 1386.7, titleY: 1232, xLabelY: 1408.5, xTitleY: 1430 },
  { top: 1205, t: 1251.7, b: 1386.7, titleY: 1232, xLabelY: 1408.5, xTitleY: 1430 },
  { top: 1205, t: 1251.7, b: 1386.7, titleY: 1232, xLabelY: 1408.5, xTitleY: 1430 },
  { top: 2010, t: 2058.3, b: 2192.7, titleY: 2038.3, xLabelY: 2213.3, xTitleY: 2236 },
  { top: 2010, t: 2058.3, b: 2192.7, titleY: 2038.3, xLabelY: 2213.3, xTitleY: 2236 },
  { top: 2010, t: 2053.3, b: 2186.7, titleY: 2031.7, xLabelY: 2208.3, xTitleY: 2231 },
];

const KM_SPECS = KM_LAYOUT.map((L, i) => {
  const C = KM_COLS[L.col];
  const four = i >= 3;
  return {
    kind: 'km', box: { x: C.bx, y: L.top, w: C.bw, h: 560 }, area: { l: C.l, t: L.t, r: C.r, b: L.b },
    titleY: L.titleY, xLabelY: L.xLabelY, xTitleY: L.xTitleY, letter: L.letter, letterX: L.letterX, letterY: L.letterY,
    title: kmTitles[i], groups: kmGroups[i], colors: four ? COL4 : COL2, labels: four ? legend4 : legend2, p: pValues[i],
  };
});
const RISK_SPECS = RISK_LAYOUT.map((R, i) => {
  const C = KM_COLS[i % 3];
  const four = i >= 3;
  return {
    kind: 'risk', box: { x: C.bx, y: R.top, w: C.bw, h: 240 }, area: { l: C.l, t: R.t, r: C.r, b: R.b },
    titleY: R.titleY, xLabelY: R.xLabelY, xTitleY: R.xTitleY, rows: riskRows[i], colors: four ? COL4 : COL2,
  };
});
const ALL_SPECS: any[] = [...ROC_SPECS, ...KM_SPECS, ...RISK_SPECS];

function buildConfig(spec: any) {
  if (spec.kind === 'roc') return rocConfig(spec);
  if (spec.kind === 'km') return kmConfig(spec);
  return riskConfig(spec);
}

function ChartCanvas({ spec }: { spec: any }) {
  const ref = useRef<HTMLCanvasElement>(null);
  useEffect(() => {
    const chart = new Chart(ref.current as any, buildConfig(spec) as any);
    return () => chart.destroy();
  }, [spec]);
  const b = spec.box;
  return (
    <canvas ref={ref} width={b.w} height={b.h}
      style={{ position: 'absolute', left: b.x, top: b.y, width: b.w, height: b.h }} />
  );
}

export default function App() {
  useEffect(() => {
    document.body.style.margin = '0';
    document.body.style.overflow = 'hidden';
  }, []);
  return (
    <div style={{ position: 'absolute', left: 0, top: 0, width: 1961, height: 2246, overflow: 'hidden', background: '#FFFFFF' }}>
      {ALL_SPECS.map((s, i) => <ChartCanvas key={i} spec={s} />)}
    </div>
  );
}
